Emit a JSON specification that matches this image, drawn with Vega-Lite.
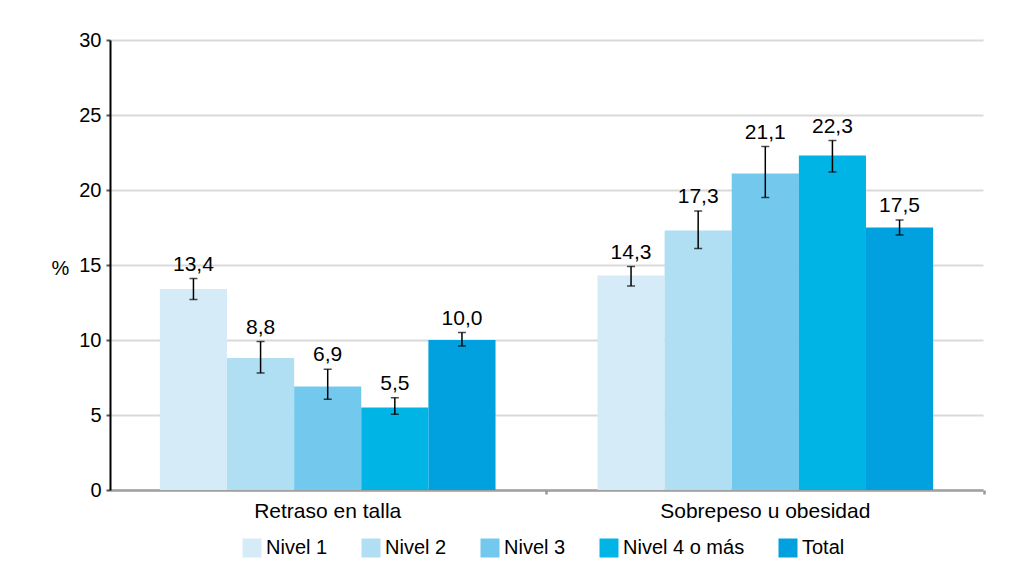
{
  "$schema": "https://vega.github.io/schema/vega-lite/v6.json",
  "width": 873,
  "height": 450,
  "autosize": {"type": "none"},
  "padding": {"left": 110, "top": 40, "right": 29, "bottom": 82},
  "background": "white",
  "config": {
    "font": "Liberation Sans",
    "view": {"stroke": null},
    "axis": {"labelFont": "Liberation Sans", "titleFont": "Liberation Sans", "labelColor": "black", "titleColor": "black"}
  },
  "data": {
    "values": [
      {"grupo": "Retraso en talla", "nivel": "Nivel 1", "valor": 13.4, "lo": 12.7, "hi": 14.1, "etiqueta": "13,4"},
      {"grupo": "Retraso en talla", "nivel": "Nivel 2", "valor": 8.8, "lo": 7.8, "hi": 9.9, "etiqueta": "8,8"},
      {"grupo": "Retraso en talla", "nivel": "Nivel 3", "valor": 6.9, "lo": 6.05, "hi": 8.05, "etiqueta": "6,9"},
      {"grupo": "Retraso en talla", "nivel": "Nivel 4 o más", "valor": 5.5, "lo": 5.05, "hi": 6.15, "etiqueta": "5,5"},
      {"grupo": "Retraso en talla", "nivel": "Total", "valor": 10.0, "lo": 9.6, "hi": 10.5, "etiqueta": "10,0"},
      {"grupo": "Sobrepeso u obesidad", "nivel": "Nivel 1", "valor": 14.3, "lo": 13.6, "hi": 14.9, "etiqueta": "14,3"},
      {"grupo": "Sobrepeso u obesidad", "nivel": "Nivel 2", "valor": 17.3, "lo": 16.1, "hi": 18.6, "etiqueta": "17,3"},
      {"grupo": "Sobrepeso u obesidad", "nivel": "Nivel 3", "valor": 21.1, "lo": 19.5, "hi": 22.9, "etiqueta": "21,1"},
      {"grupo": "Sobrepeso u obesidad", "nivel": "Nivel 4 o más", "valor": 22.3, "lo": 21.2, "hi": 23.3, "etiqueta": "22,3"},
      {"grupo": "Sobrepeso u obesidad", "nivel": "Total", "valor": 17.5, "lo": 17.0, "hi": 18.0, "etiqueta": "17,5"}
    ]
  },
  "encoding": {
    "xOffset": {"field": "nivel", "type": "nominal", "sort": ["Nivel 1", "Nivel 2", "Nivel 3", "Nivel 4 o más", "Total"], "scale": {"paddingInner": 0, "paddingOuter": 0}}
  },
  "resolve": {"axis": {"x": "independent"}},
  "layer": [
    {
      "mark": {"type": "bar"},
      "encoding": {
        "x": {
          "field": "grupo", "type": "nominal",
          "scale": {"paddingInner": 0.233, "paddingOuter": 0.114},
          "axis": {"title": null, "orient": "bottom", "labelAngle": 0, "labelFontSize": 21, "labelPadding": 10, "labelLimit": 500, "ticks": false, "domainColor": "#a0a0a0", "domainWidth": 2.5}
        },
        "y": {
          "field": "valor", "type": "quantitative",
          "scale": {"domain": [0, 30], "nice": false},
          "axis": {
            "values": [0, 5, 10, 15, 20, 25, 30],
            "title": "%", "titleAngle": 0, "titleX": -50, "titleY": 228, "titleAlign": "center", "titleBaseline": "middle",
            "titleFontSize": 20, "titleFontWeight": "normal",
            "labelFontSize": 20, "labelPadding": 5, "tickSize": 4, "tickColor": "#555555", "tickWidth": 2,
            "domainColor": "black", "domainWidth": 2,
            "grid": true, "gridColor": "#d9d9d9", "gridWidth": 2
          }
        },
        "color": {
          "field": "nivel", "type": "nominal",
          "sort": ["Nivel 1", "Nivel 2", "Nivel 3", "Nivel 4 o más", "Total"],
          "scale": {"domain": ["Nivel 1", "Nivel 2", "Nivel 3", "Nivel 4 o más", "Total"], "range": ["#d5ebf8", "#b0def3", "#73c9ed", "#00b4e5", "#00a1de"]},
          "legend": {
            "title": null, "orient": "none", "direction": "horizontal", "legendX": 132, "legendY": 498,
            "symbolType": "square", "symbolSize": 361, "symbolStrokeWidth": 0, "symbolOpacity": 1,
            "labelFontSize": 20, "labelColor": "black", "labelOffset": 4, "columnPadding": 33
          }
        }
      }
    },
    {
      "mark": {"type": "rule", "color": "black", "strokeWidth": 1.5},
      "encoding": {
        "x": {
          "field": "grupo", "type": "nominal",
          "axis": {"title": null, "orient": "bottom", "labels": false, "domain": false, "ticks": true, "bandPosition": 1.152, "tickSize": 4, "tickColor": "#999999", "tickWidth": 2.5}
        },
        "y": {"field": "lo", "type": "quantitative"},
        "y2": {"field": "hi"}
      }
    },
    {
      "mark": {"type": "tick", "color": "black", "size": 8, "thickness": 1.5},
      "encoding": {
        "x": {"field": "grupo", "type": "nominal", "axis": null},
        "y": {"field": "lo", "type": "quantitative"}
      }
    },
    {
      "mark": {"type": "tick", "color": "black", "size": 8, "thickness": 1.5},
      "encoding": {
        "x": {"field": "grupo", "type": "nominal", "axis": null},
        "y": {"field": "hi", "type": "quantitative"}
      }
    },
    {
      "mark": {"type": "text", "fontSize": 21, "color": "black", "baseline": "alphabetic", "dy": -8},
      "encoding": {
        "x": {"field": "grupo", "type": "nominal", "axis": null},
        "y": {"field": "hi", "type": "quantitative"},
        "text": {"field": "etiqueta"}
      }
    }
  ]
}
